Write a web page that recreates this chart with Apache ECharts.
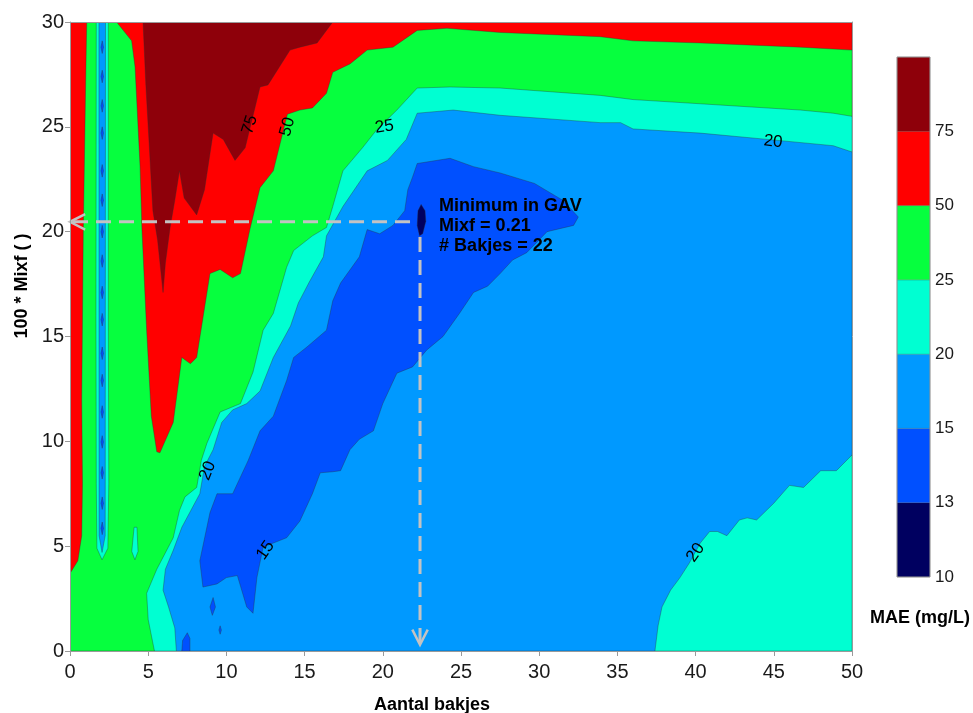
<!DOCTYPE html>
<html><head><meta charset="utf-8">
<script src="https://cdn.jsdelivr.net/npm/echarts@6/dist/echarts.min.js"></script>
<style>html,body{margin:0;padding:0;background:#fff}#c{width:973px;height:713px}</style>
</head><body><div id="c"></div>
<script>
// ---- colour classes of MAE (mg/L), bottom to top of the colour bar ----
var levelColors = ['#000060', '#0050ff', '#0099ff', '#00ffd2', '#06ff3e', '#ff0000', '#8e000a'];
var colorbarTickLabels = ['10', '13', '15', '20', '25', '50', '75', ''];

// ---- contour boundaries: [aantal bakjes, 100*Mixf] ----
var contour20 = [[6.8,0],[6.7,1.1],[6.3,2.1],[5.95,2.9],[6.1,3.9],[6.6,4.8],[7.15,5.9],[8.3,7.5],[8.6,8.8],[9.15,9.6],[9.7,10.9],[10.4,11.5],[11.3,11.8],[12.15,12.4],[13.0,14.0],[14.1,15.5],[14.6,16.6],[15.3,17.6],[16.2,18.8],[16.4,19.8],[17.45,21.2],[19.0,22.9],[20.3,23.4],[21.5,24.4],[22.2,25.65],[24.5,25.8],[27.5,25.55],[33.9,25.2],[35.2,25.2],[36.0,24.9],[40.3,24.7],[44.6,24.4],[48.8,24.1],[50,23.8]];
var contour25 = [[5.4,0],[5.0,1.5],[4.9,2.75],[5.55,3.9],[6.6,5.4],[7.0,6.7],[7.35,7.35],[8.1,7.8],[8.4,9.1],[8.75,9.9],[9.6,11.4],[10.9,11.8],[11.7,13.3],[12.35,15.3],[13.0,16.1],[13.85,18.3],[14.3,19.1],[15.5,19.8],[16.4,20.2],[16.8,21.2],[17.45,22.9],[18.7,24.0],[19.6,24.85],[20.9,25.8],[22.2,26.85],[24.3,26.9],[27.5,26.85],[33.9,26.5],[36.0,26.3],[40.3,26.1],[46.7,25.8],[48.8,25.65],[50,25.5]];
var contour50 = [[2.98,30],[3.3,29.7],[3.94,29.1],[4.16,27.85],[4.48,23.1],[4.6,20.1],[4.9,15.3],[5.2,11.2],[5.55,9.5],[5.75,9.45],[6.6,10.9],[7.15,14.0],[7.7,13.7],[8.1,14.0],[8.95,18.0],[9.6,18.2],[10.4,17.8],[10.9,18.0],[11.5,20.1],[12.15,22.1],[13.0,22.9],[13.9,25.6],[14.7,25.8],[15.5,25.9],[16.4,26.6],[16.8,27.6],[17.9,28.0],[19.0,28.66],[20.65,28.8],[22.2,29.6],[24.1,29.7],[27.5,29.5],[33.9,29.3],[36.0,29.1],[40.3,29.0],[46.7,28.8],[50,28.66]];
var contour75 = [[4.67,30],[4.85,27],[5.0,25],[5.3,21],[5.6,19.6],[5.95,17.1],[6.1,18.5],[6.4,20.2],[6.7,21.5],[7.0,22.9],[7.3,21.6],[8.1,20.8],[8.6,22.0],[9.15,24.7],[9.8,24.4],[10.55,23.4],[11.2,24.0],[12.15,26.9],[12.66,27.0],[14.07,28.66],[14.7,28.8],[15.8,29.0],[16.8,30]];
var leftRedStrip = [[0,3.7],[0.5,4.3],[0.75,5.5],[0.8,8],[0.75,12],[0.85,20],[1.0,27],[1.07,30],[0,30]];
var columnOuter20 = [[2.05,4.35],[2.42,4.9],[2.48,8],[2.45,16],[2.45,30],[1.68,30],[1.66,16],[1.68,8],[1.72,4.9]];
var columnInner15 = [[2.05,4.7],[2.25,5.5],[2.27,30],[1.85,30],[1.86,5.5]];
var columnBeadsY = [5.85,7.05,8.5,9.97,11.4,12.9,14.2,15.8,17.1,18.6,20.0,21.5,22.9,24.7,26.0,27.4,28.8];
var blobCyan = [[4.15,4.35],[4.35,4.75],[4.28,5.9],[4.1,5.9],[3.95,4.75]];
var band15 = [[21.9,22.6],[22.2,23.25],[24.3,23.5],[25.8,23.1],[27.5,22.8],[29.7,22.3],[31.5,21.5],[32.5,20.7],[32.2,20.3],[30.5,20.0],[29.2,19.0],[28.3,18.65],[27.5,18.0],[26.7,17.4],[25.8,17.1],[24.9,16.1],[23.85,15.0],[22.8,14.35],[21.9,13.55],[20.9,13.25],[20.0,11.8],[19.4,10.5],[18.5,10.1],[17.9,9.6],[17.3,8.6],[16.8,8.55],[16.0,8.5],[15.5,7.5],[14.7,6.2],[13.85,5.4],[12.35,4.96],[11.95,3.5],[11.7,1.8],[11.3,2.1],[10.7,3.6],[10.0,3.5],[9.4,3.2],[8.5,3.05],[8.3,4.3],[8.95,6.6],[9.4,7.5],[10.4,7.5],[11.4,9.1],[12.15,10.5],[13.0,11.2],[13.85,12.9],[14.3,14.0],[15.15,14.5],[16.4,15.3],[16.8,16.7],[17.3,17.55],[18.5,18.8],[19.0,20.1],[19.8,19.9],[20.65,20.3],[21.4,21.0],[21.6,22.0]];
var blob15a = [[7.15,0],[7.2,0.5],[7.5,0.87],[7.67,0.6],[7.67,0]];
var blob15b = [[9.1,1.7],[9.3,2.1],[9.15,2.55],[8.95,2.1]];
var blob15c = [[9.6,0.8],[9.68,1.0],[9.6,1.2],[9.52,1.0]];
var minimumSpot = [[22.45,21.3],[22.7,21.0],[22.75,20.5],[22.55,19.9],[22.35,19.8],[22.2,20.3],[22.25,21.0]];
var cyanBottomRight = [[37.4,0],[37.6,1.2],[37.85,2.1],[38.4,2.9],[39.0,3.5],[39.6,4.2],[40.3,5.15],[40.9,5.7],[41.4,5.7],[42.0,5.5],[42.8,6.25],[43.3,6.35],[43.9,6.25],[45.0,7.05],[46.0,7.9],[46.9,7.8],[48.0,8.6],[49.0,8.6],[50,9.35],[50,0]];

// contour labels [x, y, text]
var contourLabels = [[11.5,25.1,'75'],[13.9,25.0,'50'],[20.1,25.0,'25'],[44.95,24.3,'20'],[8.8,8.6,'20'],[12.5,4.8,'15'],[40.0,4.7,'20']];
var contourLabelAngles = [72, 75, 8, -6, 68, 55, 55];

// minimum annotation
var minimumGuideH = [[21.74,20.47],[0,20.47]];
var minimumGuideV = [[22.38,19.75],[22.38,0.3]];
var minimumText = ['Minimum in GAV', 'Mixf = 0.21', '# Bakjes = 22'];
var minimumTextAt = [23.6, 21.7];

// ---- build layers (painter order) ----
var C = levelColors;
function above(c){ return c.concat([[50,30],[0,30],[0,0]]); }
var layers = [
  {pts: [[0,0],[50,0],[50,30],[0,30]], color: C[2]},
  {pts: cyanBottomRight, color: C[3]},
  {pts: above(contour20), color: C[3]},
  {pts: above(contour25), color: C[4]},
  {pts: contour50.concat([[50,30]]), color: C[5]},
  {pts: leftRedStrip, color: C[5]},
  {pts: contour75, color: C[6]},
  {pts: columnOuter20, color: C[3]},
  {pts: columnInner15, color: C[2]},
  {pts: blobCyan, color: C[3]},
  {pts: band15, color: C[1]},
  {pts: blob15a, color: C[1]},
  {pts: blob15b, color: C[1]},
  {pts: blob15c, color: C[1]},
  {pts: minimumSpot, color: C[0]}
];
columnBeadsY.forEach(function(y){
  layers.splice(9, 0, {pts: [[2.06,y-0.3],[2.14,y],[2.06,y+0.3],[1.98,y]], color: C[1]});
});

var NARROW = '"Liberation Sans Narrow","Arial Narrow","Liberation Sans",sans-serif';
var SANS = '"Liberation Sans",Arial,sans-serif';
var GUIDE = '#c3c3c3';

function guideItem(api, seg){
  var p0 = api.coord(seg[0]), p1 = api.coord(seg[1]);
  var dx = p1[0]-p0[0], dy = p1[1]-p0[1], L = Math.sqrt(dx*dx+dy*dy);
  var ux = -dx/L, uy = -dy/L, a = 27*Math.PI/180, len = 17;
  function rot(s){ return [p1[0] + len*(ux*Math.cos(s)-uy*Math.sin(s)), p1[1] + len*(ux*Math.sin(s)+uy*Math.cos(s))]; }
  return [
    {type:'line', shape:{x1:p0[0],y1:p0[1],x2:p1[0],y2:p1[1]}, style:{stroke:GUIDE, lineWidth:3, lineDash:[15,8]}},
    {type:'polyline', shape:{points:[rot(a), p1, rot(-a)]}, style:{stroke:GUIDE, lineWidth:2.5, fill:null}}
  ];
}

var chart = echarts.init(document.getElementById('c'), null, {renderer:'canvas'});
var axisCol = '#9a9a9a';
chart.setOption({
  animation: false,
  backgroundColor: '#ffffff',
  grid: [
    {left: 70, top: 22, width: 782, height: 629, containLabel: false},
    {left: 897, top: 57, width: 33, height: 520, containLabel: false}
  ],
  xAxis: [
    {type:'value', gridIndex:0, min:0, max:50, interval:5, z:10,
     axisLine:{show:true, lineStyle:{color:axisCol}}, axisTick:{show:true, length:5, lineStyle:{color:axisCol}},
     axisLabel:{fontFamily:NARROW, fontSize:20, color:'#1a1a1a', margin:11}, splitLine:{show:false}},
    {type:'value', gridIndex:0, min:0, max:50, position:'top', z:10,
     axisLine:{show:true, onZero:false, lineStyle:{color:axisCol}}, axisTick:{show:false}, axisLabel:{show:false}, splitLine:{show:false}},
    {type:'value', gridIndex:1, min:0, max:1, show:false}
  ],
  yAxis: [
    {type:'value', gridIndex:0, min:0, max:30, interval:5, z:10,
     axisLine:{show:true, lineStyle:{color:axisCol}}, axisTick:{show:true, length:5, lineStyle:{color:axisCol}},
     axisLabel:{fontFamily:NARROW, fontSize:20, color:'#1a1a1a', margin:6}, splitLine:{show:false}},
    {type:'value', gridIndex:0, min:0, max:30, position:'right', z:10,
     axisLine:{show:true, onZero:false, lineStyle:{color:axisCol}}, axisTick:{show:false}, axisLabel:{show:false}, splitLine:{show:false}},
    {type:'value', gridIndex:1, min:0, max:7, interval:1, position:'right',
     axisLine:{show:false}, axisTick:{show:false}, splitLine:{show:false},
     axisLabel:{fontFamily:SANS, fontSize:17, color:'#1a1a1a', margin:5,
       formatter:function(v){ return colorbarTickLabels[Math.round(v)] || ''; }}}
  ],
  series: [
    {type:'custom', name:'contours', xAxisIndex:0, yAxisIndex:0, clip:true, z:2,
     data: layers.map(function(l,i){ return [i]; }),
     renderItem: function(params, api){
       var L = layers[params.dataIndex];
       return {type:'polygon', shape:{points: L.pts.map(function(p){ return api.coord(p); })},
               style:{fill:L.color, stroke:'rgba(45,45,45,0.5)', lineWidth:0.7}};
     }},
    {type:'custom', name:'labels', xAxisIndex:0, yAxisIndex:0, z:4,
     data: contourLabels.map(function(l,i){ return [l[0], l[1], i]; }),
     renderItem: function(params, api){
       var l = contourLabels[params.dataIndex];
       var p = api.coord([l[0], l[1]]);
       return {type:'text', x:p[0], y:p[1], rotation: contourLabelAngles[params.dataIndex]*Math.PI/180,
               style:{text:l[2], fontFamily:NARROW, fontSize:17, fill:'#000', align:'center', verticalAlign:'middle'}};
     }},
    {type:'custom', name:'guides', xAxisIndex:0, yAxisIndex:0, z:5,
     data: [[0],[1]],
     renderItem: function(params, api){
       var seg = params.dataIndex === 0 ? minimumGuideH : minimumGuideV;
       return {type:'group', children: guideItem(api, seg)};
     }},
    {type:'custom', name:'annotation', xAxisIndex:0, yAxisIndex:0, z:6,
     data: [minimumTextAt],
     renderItem: function(params, api){
       var p = api.coord(minimumTextAt);
       return {type:'text', x:p[0], y:p[1],
               style:{text: minimumText.join('\n'), fontFamily:SANS, fontWeight:'bold', fontSize:18, lineHeight:20,
                      fill:'#000', align:'left', verticalAlign:'top'}};
     }},
    {type:'custom', name:'colorbar', xAxisIndex:2, yAxisIndex:2, z:2,
     data: levelColors.map(function(c,i){ return [0, i]; }),
     renderItem: function(params, api){
       var i = params.dataIndex;
       var a = api.coord([0, i]), b = api.coord([1, i+1]);
       return {type:'rect', shape:{x:a[0], y:b[1], width:b[0]-a[0], height:a[1]-b[1]},
               style:{fill:levelColors[i], stroke:'rgba(60,60,60,0.35)', lineWidth:0.6}};
     }},
    {type:'custom', name:'colorbarFrame', xAxisIndex:2, yAxisIndex:2, z:3,
     data: [[0,0]],
     renderItem: function(params, api){
       var a = api.coord([0, 0]), b = api.coord([1, levelColors.length]);
       return {type:'rect', shape:{x:a[0], y:b[1], width:b[0]-a[0], height:a[1]-b[1]},
               style:{fill:null, stroke:'#9a9a9a', lineWidth:1}};
     }}
  ],
  graphic: [
    {type:'text', left: 432-58, top: 696, style:{text:'Aantal bakjes', fontFamily:SANS, fontWeight:'bold', fontSize:18, fill:'#000'}},
    {type:'text', x: 22, y: 286, rotation: Math.PI/2,
     style:{text:'100 * Mixf ( )', fontFamily:SANS, fontWeight:'bold', fontSize:18, fill:'#000', align:'center', verticalAlign:'middle'}},
    {type:'text', x: 920, y: 618, style:{text:'MAE (mg/L)', fontFamily:SANS, fontWeight:'bold', fontSize:18, fill:'#000', align:'center', verticalAlign:'middle'}}
  ]
});
</script></body></html>
